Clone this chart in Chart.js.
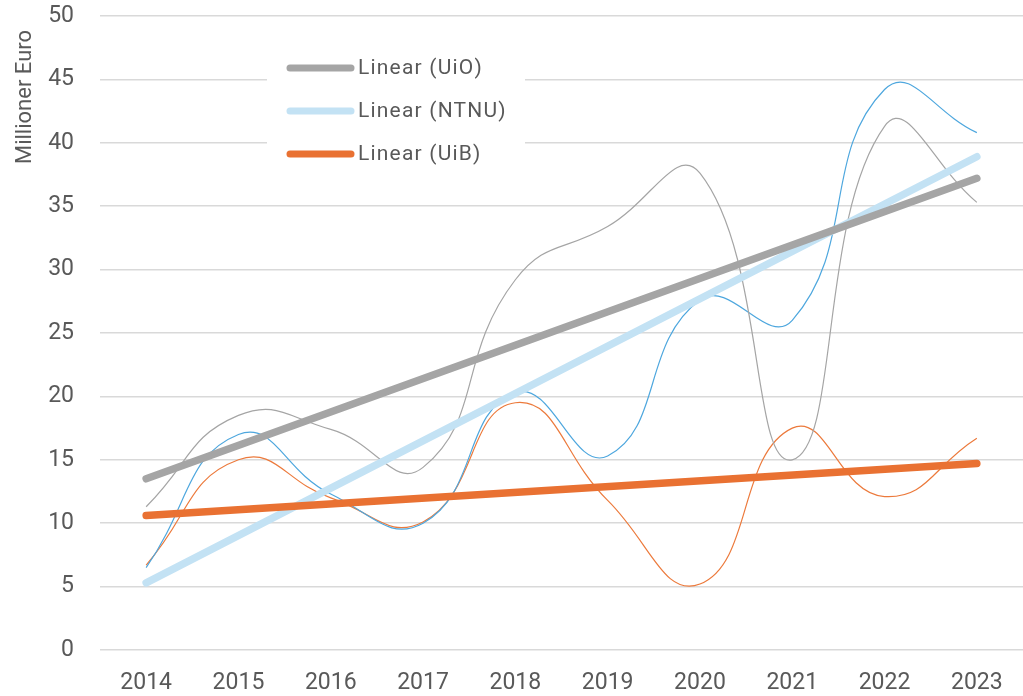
<!DOCTYPE html>
<html>
<head>
<meta charset="utf-8">
<script src="https://cdn.jsdelivr.net/npm/chart.js@4"></script>
<style>
  html, body { margin: 0; padding: 0; background: #fff; }
  #wrap { width: 1023px; height: 696px; position: relative; }
</style>
</head>
<body>
<div id="wrap"><canvas id="chart"></canvas></div>
<script>
const years = ["2014","2015","2016","2017","2018","2019","2020","2021","2022","2023"];
const uio  = [11.3, 18.5, 17.4, 14.4, 29.2, 33.4, 37.6, 15.0, 41.3, 35.3];
const ntnu = [6.5, 17.0, 12.3, 10.0, 20.3, 15.3, 27.6, 26.0, 44.2, 40.8];
const uib  = [6.7, 15.0, 12.0, 10.1, 19.5, 11.8, 5.2, 17.5, 12.1, 16.7];
// trend lines, start/end
const uioTrend  = [13.5, 37.2];
const ntnuTrend = [5.3, 38.9];
const uibTrend  = [10.6, 14.7];
const yTicks = [0, 5, 10, 15, 20, 25, 30, 35, 40, 45, 50];
const yTitle = "Millioner Euro";

const FONT = "Roboto, 'Noto Sans', sans-serif";
const TXT = "#595959";

const C = {
  uio: "#A5A5A5", ntnu: "#4EA7DE", uib: "#EC7A3C",
  uioT: "#A5A5A5", ntnuT: "#C3E2F4", uibT: "#E97132"
};

function ends(pair){ return years.map((_, i) => i === 0 ? pair[0] : i === years.length - 1 ? pair[1] : null); }

function thin(label, data, color){
  return { label, data, borderColor: color, borderWidth: 1.2, tension: 0.48,
    pointRadius: 0, fill: false, order: 5 };
}
function trend(label, pair, color, order){
  return { label, data: ends(pair), borderColor: color, borderWidth: 7.5, tension: 0,
    spanGaps: true, pointRadius: 0, borderCapStyle: "round", fill: false, order };
}

const legendItems = [
  { text: "Linear (UiO)", color: C.uioT },
  { text: "Linear (NTNU)", color: C.ntnuT },
  { text: "Linear (UiB)", color: C.uibT }
];

// legend sits inside the plot, upper left; also draws the y title
const boxLegend = {
  id: "boxLegend",
  afterDraw(chart) {
    const ctx = chart.ctx;
    ctx.save();
    ctx.font = `21px ${FONT}`;
    ctx.letterSpacing = "1.2px";
    ctx.textBaseline = "middle";
    legendItems.forEach((it, i) => {
      const y = 68 + i * 43;
      ctx.strokeStyle = it.color;
      ctx.lineWidth = 7;
      ctx.lineCap = "round";
      ctx.beginPath(); ctx.moveTo(290, y); ctx.lineTo(351, y); ctx.stroke();
      ctx.fillStyle = TXT;
      ctx.fillText(it.text, 358, y + 1);
    });
    ctx.restore();

    ctx.save();
    ctx.translate(25, 97);
    ctx.rotate(-Math.PI / 2);
    ctx.font = `22px ${FONT}`;
    ctx.textAlign = "center";
    ctx.textBaseline = "middle";
    ctx.fillStyle = TXT;
    ctx.fillText(yTitle, 0, 0);
    ctx.restore();
  }
};

// white backing behind legend so gridlines are cut like in Excel
const legendBack = {
  id: "legendBack",
  beforeDatasetsDraw(chart) {
    const ctx = chart.ctx;
    ctx.save();
    ctx.fillStyle = "#fff";
    ctx.fillRect(267, 44, 258, 132);
    ctx.restore();
  }
};

new Chart(document.getElementById("chart"), {
  type: "line",
  data: {
    labels: years,
    datasets: [
      trend("Linear (UiB)", uibTrend, C.uibT, 0),
      trend("Linear (UiO)", uioTrend, C.uioT, 1),
      trend("Linear (NTNU)", ntnuTrend, C.ntnuT, 2),
      thin("UiO", uio, C.uio),
      thin("NTNU", ntnu, C.ntnu),
      thin("UiB", uib, C.uib)
    ]
  },
  options: {
    responsive: true,
    maintainAspectRatio: false,
    animation: false,
    layout: { padding: { top: 16, right: 0, left: 0, bottom: 0 } },
    plugins: { legend: { display: false }, tooltip: { enabled: false } },
    scales: {
      x: {
        offset: true,
        grid: { display: false, drawTicks: false },
        border: { display: false },
        ticks: { color: TXT, font: { family: FONT, size: 23 }, padding: 19, maxRotation: 0 },
        afterFit(s) { s.height = 46; s.paddingLeft = 0; s.paddingRight = 0; }
      },
      y: {
        min: 0, max: 50,
        afterBuildTicks(s) { s.ticks = yTicks.map(v => ({ value: v })); },
        grid: { color: "#D9D9D9", lineWidth: 1.5, drawTicks: false },
        border: { display: false },
        ticks: { color: TXT, font: { family: FONT, size: 23 }, padding: 26 },
        afterFit(s) { s.width = 100; s.paddingTop = 0; s.paddingBottom = 0; }
      }
    }
  },
  plugins: [legendBack, boxLegend]
});
</script>
</body>
</html>
